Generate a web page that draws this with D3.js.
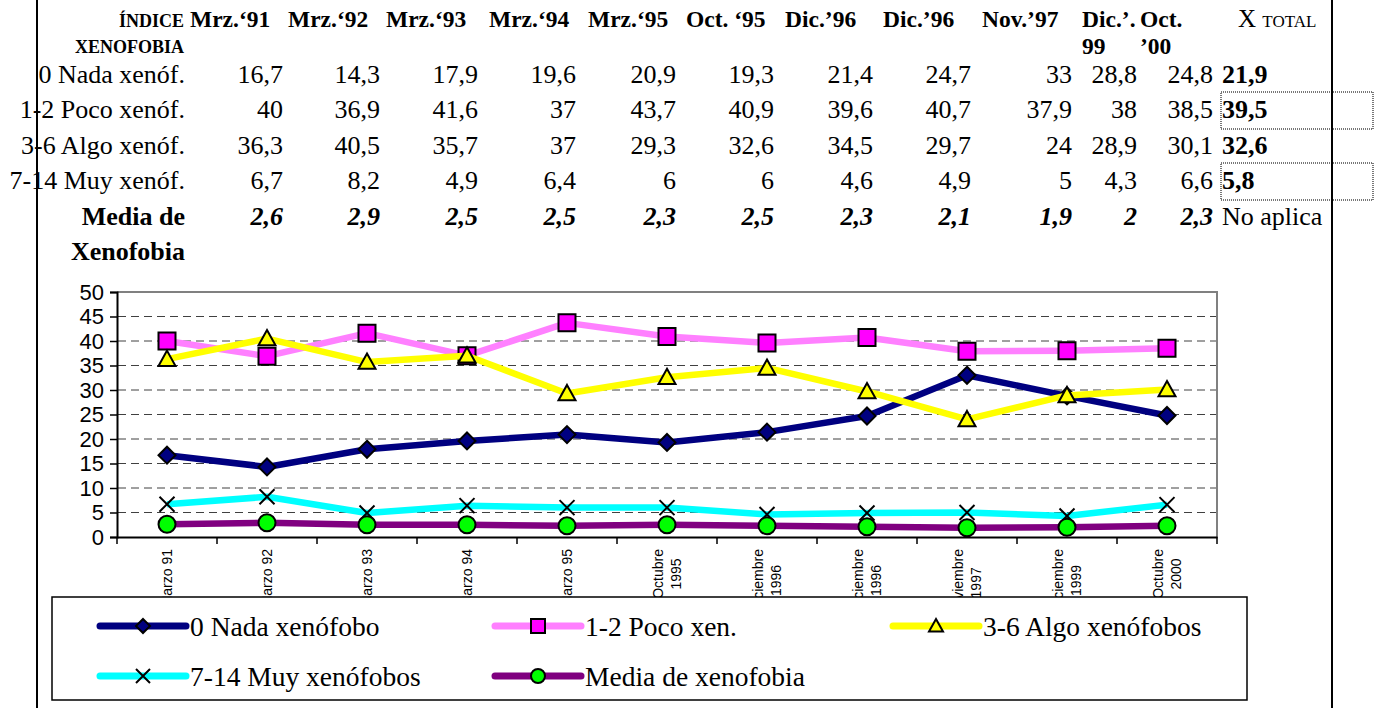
<!DOCTYPE html>
<html>
<head>
<meta charset="utf-8">
<script src="https://cdn.jsdelivr.net/npm/d3@7"></script>
<style>
  html, body { margin: 0; padding: 0; background: #fff; }
  svg { display: block; }
</style>
</head>
<body>
<div id="chart"></div>
<script>
// ---- data ----
const categories = ["Marzo 91", "Marzo 92", "Marzo 93", "Marzo 94", "Marzo 95",
  "Octubre\n1995", "Diciembre\n1996", "Diciembre\n1996", "Noviembre\n1997",
  "Diciembre\n1999", "Octubre\n2000"];
const colHeaders = ["Mrz.‘91", "Mrz.‘92", "Mrz.‘93", "Mrz.‘94", "Mrz.‘95",
  "Oct. ‘95", "Dic.’96", "Dic.’96", "Nov.’97", "Dic.’.\n99", "Oct.\n’00"];
const rowLabels = ["0 Nada xenóf.", "1-2 Poco xenóf.", "3-6 Algo xenóf.", "7-14 Muy xenóf."];
const nada = [16.7, 14.3, 17.9, 19.6, 20.9, 19.3, 21.4, 24.7, 33, 28.8, 24.8];
const poco = [40, 36.9, 41.6, 37, 43.7, 40.9, 39.6, 40.7, 37.9, 38, 38.5];
const algo = [36.3, 40.5, 35.7, 37, 29.3, 32.6, 34.5, 29.7, 24, 28.9, 30.1];
const muy = [6.7, 8.2, 4.9, 6.4, 6, 6, 4.6, 4.9, 5, 4.3, 6.6];
const media = [2.6, 2.9, 2.5, 2.5, 2.3, 2.5, 2.3, 2.1, 1.9, 2, 2.3];
const totals = [21.9, 39.5, 32.6, 5.8];
const legendNames = ["0 Nada xenófobo", "1-2 Poco xen.", "3-6 Algo xenófobos",
  "7-14 Muy xenófobos", "Media de xenofobia"];
const yTicks = [0, 5, 10, 15, 20, 25, 30, 35, 40, 45, 50];

// ---- layout ----
const W = 1377, H = 708;
const serif = "'Liberation Serif', 'Times New Roman', serif";
const sans = "'Liberation Sans', Arial, sans-serif";
const fmt = (v) => String(v).replace(".", ",");

const svg = d3.select("#chart").append("svg").attr("width", W).attr("height", H);

// markers as custom paths
const markerPath = {
  diamond: (r) => `M0,${-r}L${r},0L0,${r}L${-r},0Z`,
  square: (r) => `M${-r},${-r}H${r}V${r}H${-r}Z`,
  triangle: (r) => `M0,${-r}L${r},${r * 0.8}L${-r},${r * 0.8}Z`,
  x: (r) => `M${-r},${-r}L${r},${r}M${r},${-r}L${-r},${r}`,
  circle: (r) => `M${r},0A${r},${r} 0 1,1 ${-r},0A${r},${r} 0 1,1 ${r},0Z`,
};

const series = [
  { name: legendNames[0], values: nada, color: "#000080", marker: "diamond", fill: "#000080" },
  { name: legendNames[1], values: poco, color: "#ff80ff", marker: "square", fill: "#ff00ff" },
  { name: legendNames[2], values: algo, color: "#ffff00", marker: "triangle", fill: "#ffff00" },
  { name: legendNames[3], values: muy, color: "#00ffff", marker: "x", fill: "none" },
  { name: legendNames[4], values: media, color: "#800080", marker: "circle", fill: "#00ff00" },
];

// ---- chart ----
const x = d3.scaleBand().domain(d3.range(categories.length)).range([117, 1217]).padding(0);
const cx = (i) => x(i) + x.bandwidth() / 2;
const y = d3.scaleLinear().domain([0, 50]).range([537, 292]);

const plot = svg.append("g");

plot.append("rect")
  .attr("x", 117).attr("y", y(50))
  .attr("width", 1100).attr("height", y(0) - y(50))
  .attr("fill", "#fff");

// dashed gridlines
plot.append("g")
  .selectAll("line")
  .data(yTicks.filter((t) => t > 0 && t < 50))
  .join("line")
  .attr("x1", 118).attr("x2", 1216)
  .attr("y1", (d) => y(d)).attr("y2", (d) => y(d))
  .attr("stroke", "#404040")
  .attr("stroke-width", 1)
  .attr("stroke-dasharray", "8,5");

// plot area border (top/right)
plot.append("path")
  .attr("d", `M117,${y(50)}H1217V${y(0)}`)
  .attr("fill", "none")
  .attr("stroke", "#808080")
  .attr("stroke-width", 2);

// y axis
plot.append("g")
  .attr("transform", "translate(117,0)")
  .call(d3.axisLeft(y).tickValues(yTicks).tickSize(7).tickPadding(6))
  .call((g) => g.select(".domain").attr("stroke", "#000").attr("stroke-width", 2))
  .call((g) => g.selectAll(".tick line").attr("stroke", "#000").attr("stroke-width", 1.5))
  .call((g) => g.selectAll("text")
    .attr("font-family", sans).attr("font-size", 22).attr("fill", "#000"));

// x axis with boundary ticks
plot.append("g")
  .attr("transform", `translate(0,${y(0)})`)
  .call(d3.axisBottom(x).tickSize(0).tickFormat(""))
  .call((g) => g.select(".domain").attr("stroke", "#000").attr("stroke-width", 2))
  .call((g) => g.selectAll(".tick").remove());
plot.append("g")
  .selectAll("line")
  .data(d3.range(categories.length + 1))
  .join("line")
  .attr("x1", (i) => 117 + i * x.bandwidth())
  .attr("x2", (i) => 117 + i * x.bandwidth())
  .attr("y1", y(0)).attr("y2", y(0) + 7)
  .attr("stroke", "#000").attr("stroke-width", 1.5);

// rotated category labels
const xl = plot.append("g").selectAll("g")
  .data(categories)
  .join("g")
  .attr("transform", (d, i) => `translate(${cx(i)},549) rotate(-90)`);
xl.each(function (d) {
  const g = d3.select(this);
  const lines = d.split("\n");
  const texts = g.selectAll("text").data(lines).join("text")
    .attr("font-family", sans).attr("font-size", 14).attr("fill", "#000")
    .attr("dominant-baseline", "central")
    .attr("text-anchor", "middle")
    .attr("y", (l, k) => (k - (lines.length - 1) / 2) * 18)
    .text((l) => l);
  const maxLen = d3.max(texts.nodes(), (n) => n.getComputedTextLength());
  texts.attr("x", -maxLen / 2);
});

// series
const line = d3.line().x((d, i) => cx(i)).y((d) => y(d));
series.forEach((s) => {
  const g = plot.append("g");
  g.append("path")
    .attr("d", line(s.values))
    .attr("fill", "none")
    .attr("stroke", s.color)
    .attr("stroke-width", 6.5)
    .attr("stroke-linejoin", "round");
  g.selectAll("path.m")
    .data(s.values)
    .join("path")
    .attr("class", "m")
    .attr("transform", (d, i) => `translate(${cx(i)},${y(d)})`)
    .attr("d", markerPath[s.marker](s.marker === "x" ? 7.5 : 8.5))
    .attr("fill", s.fill)
    .attr("stroke", "#000")
    .attr("stroke-width", 2);
});

// legend
const lg = svg.append("g");
lg.append("rect")
  .attr("x", 52).attr("y", 597).attr("width", 1195).attr("height", 103)
  .attr("fill", "#fff").attr("stroke", "#000").attr("stroke-width", 1.5);
const legendPos = [[100, 626], [495, 626], [893, 626], [100, 676], [495, 676]];
series.forEach((s, i) => {
  const [lx, ly] = legendPos[i];
  lg.append("line")
    .attr("x1", lx).attr("x2", lx + 86).attr("y1", ly).attr("y2", ly)
    .attr("stroke", s.color).attr("stroke-width", 7).attr("stroke-linecap", "round");
  lg.append("path")
    .attr("transform", `translate(${lx + 43},${ly})`)
    .attr("d", markerPath[s.marker](7))
    .attr("fill", s.fill).attr("stroke", "#000").attr("stroke-width", 2);
  lg.append("text")
    .attr("x", lx + 90).attr("y", ly)
    .attr("dominant-baseline", "central")
    .attr("font-family", serif).attr("font-size", 27.5).attr("fill", "#000")
    .text(s.name);
});

// ---- table ----
const tb = svg.append("g").attr("font-family", serif).attr("fill", "#000");
const headLeft = [190, 288, 386, 489, 588, 686, 785, 883, 982, 1082, 1140];
const colRight = [283, 380, 478, 576, 676, 774, 873, 971, 1072, 1137, 1213];
const rowBase = [83, 118, 154, 189, 225];

tb.append("text").attr("x", 184).attr("y", 27).attr("text-anchor", "end")
  .attr("font-size", 18).attr("font-weight", "bold").text("ÍNDICE");
tb.append("text").attr("x", 184).attr("y", 53).attr("text-anchor", "end")
  .attr("font-size", 18).attr("font-weight", "bold").text("XENOFOBIA");

colHeaders.forEach((h, i) => {
  h.split("\n").forEach((part, k) => {
    tb.append("text").attr("x", headLeft[i]).attr("y", 27 + k * 27)
      .attr("font-size", 23.5).attr("font-weight", "bold").text(part);
  });
});
const xt = tb.append("text").attr("x", 1238).attr("y", 27);
xt.append("tspan").attr("font-size", 25).text("X ");
xt.append("tspan").attr("font-size", 17).text("TOTAL");

const rows = [nada, poco, algo, muy];
rows.forEach((vals, r) => {
  tb.append("text").attr("x", 185).attr("y", rowBase[r]).attr("text-anchor", "end")
    .attr("font-size", 26).text(rowLabels[r]);
  vals.forEach((v, i) => {
    tb.append("text").attr("x", colRight[i]).attr("y", rowBase[r]).attr("text-anchor", "end")
      .attr("font-size", 26).text(fmt(v));
  });
  tb.append("text").attr("x", 1222).attr("y", rowBase[r])
    .attr("font-size", 26).attr("font-weight", "bold").text(fmt(totals[r]));
});
tb.append("text").attr("x", 185).attr("y", rowBase[4]).attr("text-anchor", "end")
  .attr("font-size", 26).attr("font-weight", "bold").text("Media de");
tb.append("text").attr("x", 185).attr("y", rowBase[4] + 35).attr("text-anchor", "end")
  .attr("font-size", 26).attr("font-weight", "bold").text("Xenofobia");
media.forEach((v, i) => {
  tb.append("text").attr("x", colRight[i]).attr("y", rowBase[4]).attr("text-anchor", "end")
    .attr("font-size", 26).attr("font-weight", "bold").attr("font-style", "italic").text(fmt(v));
});
tb.append("text").attr("x", 1222).attr("y", rowBase[4]).attr("font-size", 26).text("No aplica");

// dotted selection boxes around two totals
[1, 3].forEach((r) => {
  tb.append("rect")
    .attr("x", 1221).attr("y", rowBase[r] - 26).attr("width", 152).attr("height", 37)
    .attr("fill", "none").attr("stroke", "#777").attr("stroke-width", 2)
    .attr("stroke-dasharray", "1,1");
});

// page frame lines
svg.append("line").attr("x1", 37).attr("x2", 37).attr("y1", 0).attr("y2", H)
  .attr("stroke", "#000").attr("stroke-width", 2);
svg.append("line").attr("x1", 1332).attr("x2", 1332).attr("y1", 0).attr("y2", H)
  .attr("stroke", "#000").attr("stroke-width", 2);
</script>
</body>
</html>
